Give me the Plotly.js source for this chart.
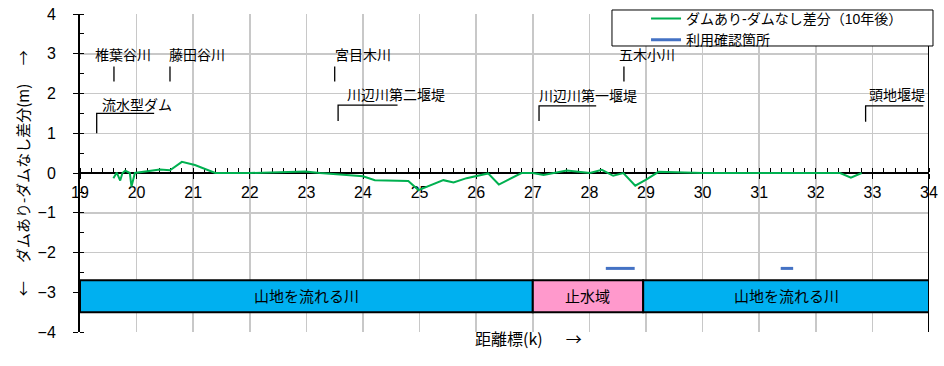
<!DOCTYPE html>
<html>
<head>
<meta charset="utf-8">
<script src="https://cdn.plot.ly/plotly-3.0.1.min.js"></script>
<style>body{margin:0;padding:0;background:#fff;}#chart{width:944px;height:366px;}</style>
</head>
<body>
<div id="chart"></div>
<script>
// ---- data ----
const diffX = [19.59,19.65,19.71,19.75,19.80,19.88,19.91,19.97,20.41,20.59,20.80,21.03,21.39,22.00,22.98,23.24,24.00,24.21,24.80,24.98,25.42,25.60,25.83,26.21,26.40,26.80,27.00,27.19,27.60,28.01,28.22,28.42,28.60,28.81,29.01,29.22,30.00,31.00,32.00,32.43,32.62,32.81];
const diffY = [-0.13,0.01,-0.19,0.00,0.06,0.00,-0.34,0.00,0.09,0.07,0.28,0.20,0.00,0.00,0.04,0.00,-0.08,-0.18,-0.20,-0.43,-0.18,-0.24,-0.13,-0.01,-0.29,0.00,0.00,-0.05,0.06,0.00,0.08,-0.07,0.00,-0.32,-0.16,0.03,0.00,0.00,0.00,0.00,-0.12,0.00];
const useStart = [28.29, 31.38];
const useEnd   = [28.80, 31.60];
const useLevel = -2.4;
const regionNames = ['山地を流れる川','止水域','山地を流れる川'];
const regionStart = [19, 27, 28.95];
const regionEnd   = [27, 28.95, 34];
const regionColors = ['#00B0F0','#FF99CC','#00B0F0'];
const xTicks = [19,20,21,22,23,24,25,26,27,28,29,30,31,32,33,34];
const yTicks = [-4,-3,-2,-1,0,1,2,3,4];
const tribNames = ['椎葉谷川','藤田谷川','宮目木川','五木小川'];
const tribX = [19.6, 20.59, 23.5, 28.61];
const weirNames = ['流水型ダム','川辺川第二堰堤','川辺川第一堰堤','頭地堰堤'];
const weirX = [19.295, 23.56, 27.11, 32.88];

// ---- build ----
const FONT = 'Liberation Sans, Arial, Noto Sans CJK JP, sans-serif';
const JFONT = 'Noto Sans CJK JP, Liberation Sans, sans-serif';
const useXs = [], useYs = [];
for (let i = 0; i < useStart.length; i++) {
  useXs.push(useStart[i], useEnd[i], null);
  useYs.push(useLevel, useLevel, null);
}
const traces = [
  {x: diffX, y: diffY, mode: 'lines', name: 'ダムあり-ダムなし差分（10年後）',
   line: {color: '#00B050', width: 2}},
  {x: useXs, y: useYs, mode: 'lines', name: '利用確認箇所',
   line: {color: '#4472C4', width: 3}, connectgaps: false}
];

const shapes = [];
const annotations = [];
for (let i = 0; i < regionNames.length; i++) {
  shapes.push({type: 'rect', xref: 'x', yref: 'y', x0: regionStart[i], x1: regionEnd[i],
    y0: -3.5, y1: -2.7, fillcolor: regionColors[i], line: {color: '#000', width: 2}, layer: 'above'});
  annotations.push({x: (regionStart[i] + regionEnd[i]) / 2, y: -3.1, xref: 'x', yref: 'y',
    text: regionNames[i], showarrow: false, font: {size: 15, color: '#000', family: FONT}});
}
const tribTextX = [19.76, 21.07, 24.0, 29.01];
for (let i = 0; i < tribNames.length; i++) {
  shapes.push({type: 'line', xref: 'x', yref: 'y', x0: tribX[i], x1: tribX[i], y0: 2.3, y1: 2.68,
    line: {color: '#000', width: 1.3}});
  annotations.push({x: tribTextX[i], y: 2.97, xref: 'x', yref: 'y', text: tribNames[i],
    showarrow: false, font: {size: 14, color: '#000', family: FONT}});
}
const weirTextX = [20.0, 24.58, 27.98, 33.43];
const weirTextY = [1.71, 1.96, 1.94, 1.96];
const weirTop = [1.5, 1.71, 1.69, 1.69];
const weirBottom = [1.0, 1.31, 1.31, 1.29];
const weirRight = [20.31, 24.61, 28.12, 33.9];
for (let i = 0; i < weirNames.length; i++) {
  shapes.push({type: 'path', xref: 'x', yref: 'y',
    path: `M ${weirX[i]} ${weirBottom[i]} L ${weirX[i]} ${weirTop[i]} L ${weirRight[i]} ${weirTop[i]}`,
    line: {color: '#000', width: 1.3}});
  annotations.push({x: weirTextX[i], y: weirTextY[i], xref: 'x', yref: 'y', text: weirNames[i],
    showarrow: false, font: {size: 14, color: '#000', family: FONT}});
}
// right frame line
shapes.push({type: 'line', xref: 'x', yref: 'paper', x0: 34, x1: 34, y0: 0, y1: 1,
  line: {color: '#000', width: 2}});
// legend box
shapes.push({type: 'rect', xref: 'paper', yref: 'paper', x0: 0.6266, x1: 1.0047, y0: 0.8994, y1: 1.0126,
  fillcolor: '#fff', line: {color: '#000', width: 1}, layer: 'above'});

annotations.push({xref: 'paper', yref: 'paper', x: -0.068, y: 0.5, xanchor: 'center', yanchor: 'middle',
  textangle: -90, text: '←　\u00a0ダムあり-ダムなし差分(m)\u00a0　→', showarrow: false,
  font: {size: 15, color: '#000', family: JFONT}});
annotations.push({xref: 'paper', yref: 'paper', x: 0.528, y: -0.063, xanchor: 'center',
  text: '距離標(k)\u00a0\u00a0　→', showarrow: false,
  font: {size: 16, color: '#000', family: JFONT}});

const layout = {
  width: 944, height: 366,
  margin: {l: 80, r: 15, t: 14, b: 34, autoexpand: false},
  paper_bgcolor: '#fff', plot_bgcolor: '#fff',
  font: {family: FONT, size: 15, color: '#000'},
  showlegend: true,
  legend: {x: 0.6667, xanchor: 'left', y: 1.035, yanchor: 'top', bgcolor: 'rgba(0,0,0,0)',
    borderwidth: 0, font: {size: 14, family: FONT}, tracegroupgap: 0},
  xaxis: {range: [19, 34], tickvals: xTicks, ticktext: xTicks.map(String),
    anchor: 'free', position: 0.5, showline: true, linecolor: '#000', linewidth: 2,
    layer: 'below traces', automargin: false,
    ticks: 'outside', ticklen: 5, tickcolor: '#000', tickwidth: 1,
    showgrid: true, gridcolor: '#c8c8c8', gridwidth: 1.5, zeroline: false,
    minor: {dtick: 0.2, ticks: 'inside', ticklen: 4, tickcolor: '#000', showgrid: false},
    tickfont: {size: 16, family: FONT}, fixedrange: true},
  yaxis: {range: [-4, 4], tickvals: yTicks, ticktext: yTicks.map(v => v < 0 ? '−' + Math.abs(v) : String(v)),
    showline: true, linecolor: '#000', linewidth: 2, layer: 'below traces', automargin: false,
    ticks: 'outside', ticklen: 5, tickcolor: '#000', tickwidth: 1,
    showgrid: true, gridcolor: '#c8c8c8', gridwidth: 1.5, zeroline: false,
    minor: {dtick: 0.5, ticks: 'inside', ticklen: 4, tickcolor: '#000', showgrid: false},
    tickfont: {size: 16, family: FONT}, ticklabelstandoff: 14, fixedrange: true},
  shapes: shapes,
  annotations: annotations
};
Plotly.newPlot('chart', traces, layout, {staticPlot: true, displayModeBar: false});
</script>
</body>
</html>
